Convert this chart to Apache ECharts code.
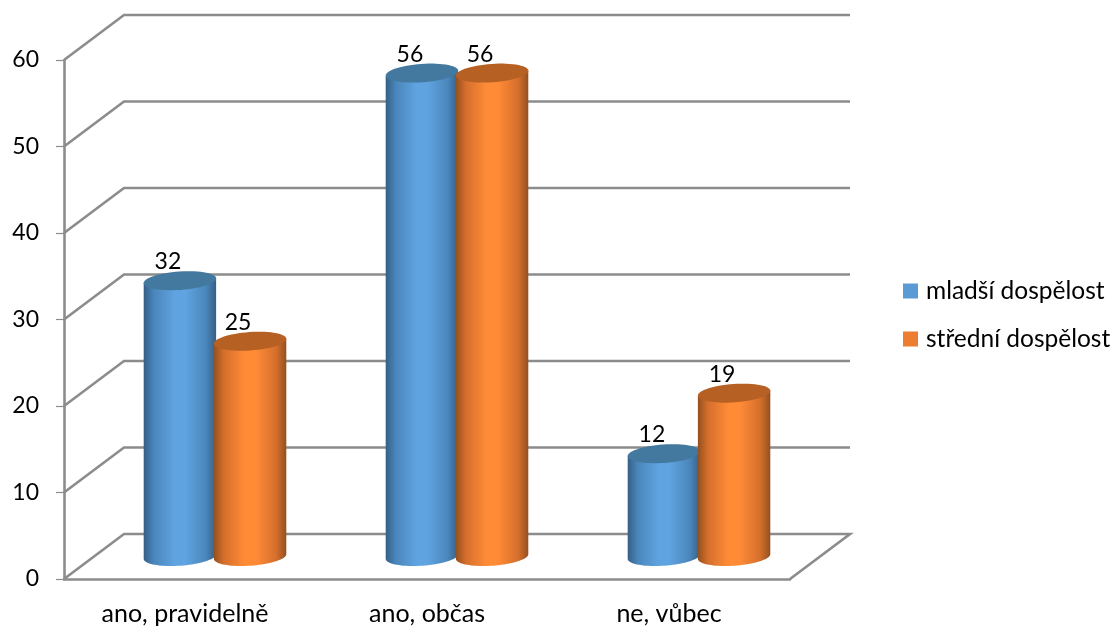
<!DOCTYPE html>
<html>
<head>
<meta charset="utf-8">
<style>html,body{margin:0;padding:0;background:#fff}#c{width:1116px;height:626px}</style>
<script src="https://cdn.jsdelivr.net/npm/echarts@6/dist/echarts.min.js"></script>
</head>
<body>
<div id="c"></div>
<script>
const categories = ['ano, pravidelně', 'ano, občas', 'ne, vůbec'];
const mladsi = [32, 56, 12];
const stredni = [25, 56, 19];
const yTicks = [0, 10, 20, 30, 40, 50, 60];

const FONT = 'Lato';
const DEPTH_X = 60, DEPTH_Y = -45;
const GRID_COLOR = '#8c8c8c';
const chart = echarts.init(document.getElementById('c'), null, {renderer: 'canvas'});

function ellipsePts(cx, cy, rx, ry, from, to, n) {
  const th = -4 * Math.PI / 180, pts = [];
  for (let i = 0; i <= n; i++) {
    const t = from + (to - from) * i / n;
    const x = rx * Math.cos(t), y = ry * Math.sin(t);
    pts.push([cx + x * Math.cos(th) - y * Math.sin(th), cy + x * Math.sin(th) + y * Math.cos(th)]);
  }
  return pts;
}
function stops(edge, mid, core) {
  return [
    {offset: 0, color: edge}, {offset: 0.14, color: mid}, {offset: 0.42, color: core},
    {offset: 0.58, color: core}, {offset: 0.86, color: mid}, {offset: 1, color: edge}
  ];
}
function cylinder(side, edge, mid, core, topColor) {
  return function (params, api) {
    const band = api.size([1, 0])[0];
    const v = api.value(1);
    const top = api.coord([api.value(0), v]);
    const base = api.coord([api.value(0), 0]);
    const cx = top[0] + DEPTH_X / 2 + side * band * 0.145;
    const rx = band * 0.15, ry = 9.2;
    const yt = top[1] + DEPTH_Y / 2 + 1, yb = base[1] + DEPTH_Y / 2;
    const body = ellipsePts(cx, yb, rx, ry, 0, Math.PI, 40);
    const tp = ellipsePts(cx, yt, rx, ry, 0, Math.PI, 1);
    const poly = [tp[0]].concat(body.slice(0), [tp[1]]);
    return {
      type: 'group',
      children: [
        {type: 'polygon', shape: {points: poly}, silent: true,
          style: {fill: new echarts.graphic.LinearGradient(0, 0, 1, 0, stops(edge, mid, core))}},
        {type: 'polygon', shape: {points: ellipsePts(cx, yt, rx, ry, 0, Math.PI * 2, 60)}, silent: true,
          style: {fill: topColor}},
        {type: 'text', silent: true, x: cx - 12, y: yt - 19,
          style: {text: String(v), fill: '#000', font: '23px ' + FONT, align: 'center', verticalAlign: 'middle'}}
      ]
    };
  };
}
function walls(params, api) {
  const v = api.value(1);
  const y = api.coord([0, v])[1];
  const x0 = params.coordSys.x, x1 = x0 + params.coordSys.width;
  const pts = [[x0, y], [x0 + DEPTH_X, y + DEPTH_Y], [x1 + DEPTH_X, y + DEPTH_Y]];
  if (v === 0) pts.push([x1, y]);
  return {type: 'polyline', silent: true, shape: {points: pts},
    style: {stroke: GRID_COLOR, lineWidth: 2.6, fill: null}};
}

chart.setOption({
  animation: false,
  backgroundColor: '#fff',
  grid: {left: 64, right: 326, top: 60, bottom: 47, containLabel: false},
  textStyle: {fontFamily: FONT},
  legend: {
    orient: 'vertical', left: 898, top: 273, itemWidth: 15, itemHeight: 15, itemGap: 22, icon: 'rect',
    data: ['mladší dospělost', 'střední dospělost'],
    textStyle: {fontFamily: FONT, fontSize: 24.5, color: '#000', lineHeight: 26, padding: [0, 0, 0, 3]}
  },
  xAxis: {
    type: 'category', data: categories,
    axisLine: {lineStyle: {color: GRID_COLOR, width: 2.6}},
    axisTick: {length: 8, lineStyle: {color: GRID_COLOR, width: 1.2}},
    axisLabel: {color: '#000', fontFamily: FONT, fontSize: 25, margin: 22},
    splitLine: {show: false}
  },
  yAxis: {
    type: 'value', min: 0, max: 60, interval: 10,
    axisLine: {show: true, lineStyle: {color: GRID_COLOR, width: 2.6}},
    axisTick: {show: true, length: 8, lineStyle: {color: GRID_COLOR, width: 1.2}},
    axisLabel: {color: '#000', fontFamily: FONT, fontSize: 23, margin: 25},
    splitLine: {show: false}
  },
  series: [
    {type: 'custom', name: 'stěny', renderItem: walls, clip: false, silent: true, z: 1,
      data: yTicks.map(v => [0, v])},
    {type: 'custom', name: 'mladší dospělost', clip: false, z: 2, itemStyle: {color: '#5b9bd5'},
      renderItem: cylinder(-1, '#355f86', '#4a86bb', '#5fa3e0', '#44799f'),
      data: mladsi.map((v, i) => [i, v])},
    {type: 'custom', name: 'střední dospělost', clip: false, z: 3, itemStyle: {color: '#ed7d31'},
      renderItem: cylinder(1, '#94501f', '#d56f2c', '#ff8b37', '#b66024'),
      data: stredni.map((v, i) => [i, v])}
  ]
});
</script>
</body>
</html>
